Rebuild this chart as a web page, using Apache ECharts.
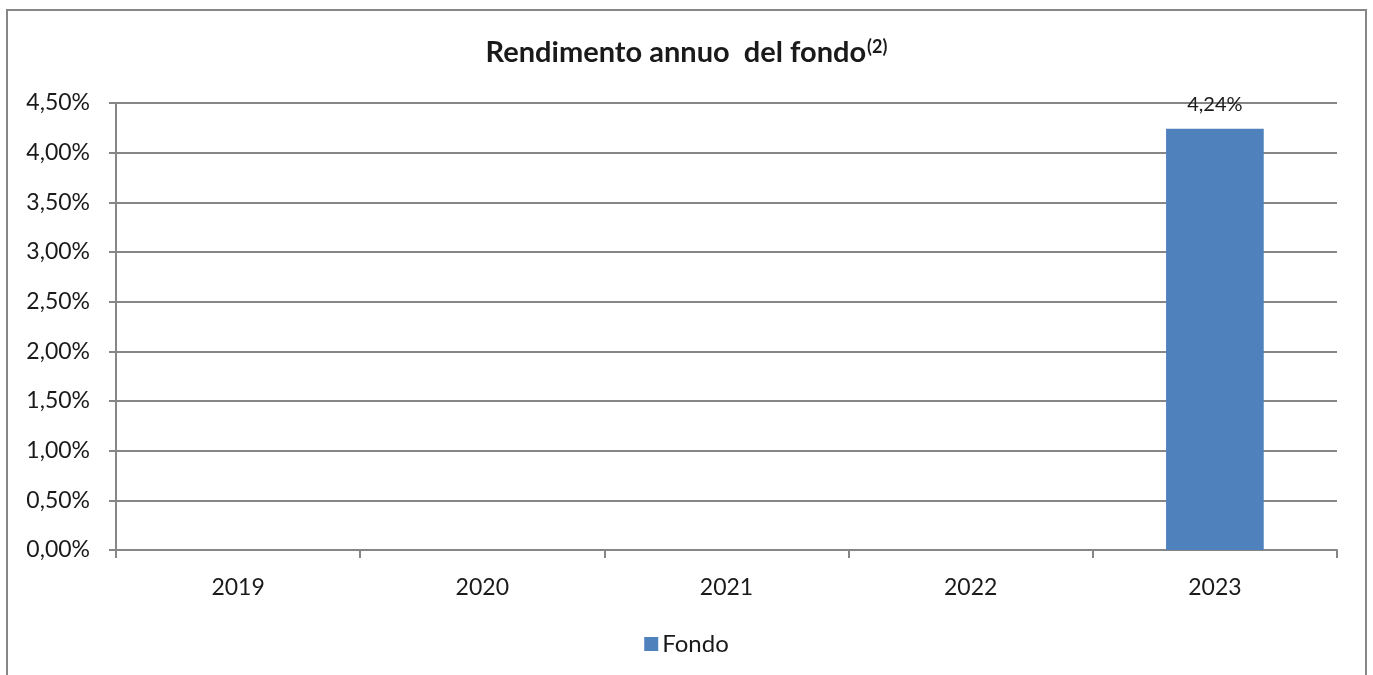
<!DOCTYPE html>
<html>
<head>
<meta charset="utf-8">
<script src="https://cdn.jsdelivr.net/npm/echarts@6/dist/echarts.min.js"></script>
<style>
html,body{margin:0;padding:0;background:#fff;}
#c{width:1373px;height:675px;}
</style>
</head>
<body>
<div id="c"></div>
<script>
const categories = ['2019', '2020', '2021', '2022', '2023'];
const fondo = [null, null, null, null, 4.24];
const seriesName = 'Fondo';
const titleMain = 'Rendimento annuo  del fondo';
const titleSup = '(2)';

const FONT = 'Lato';
const GRAY = '#868686';
const TXT = '#1a1a1a';
const fmt = v => v.toFixed(2).replace('.', ',') + '%';

const chart = echarts.init(document.getElementById('c'));
chart.setOption({
  animation: false,
  backgroundColor: '#fff',
  graphic: [{
    type: 'rect',
    shape: { x: 7, y: 10, width: 1359, height: 700 },
    style: { fill: 'none', stroke: GRAY, lineWidth: 2 },
    silent: true
  }],
  title: {
    text: '{m|' + titleMain + '}{s|' + titleSup + '}',
    left: 'center',
    top: 33,
    textStyle: {
      rich: {
        m: { fontFamily: FONT, fontWeight: 'bold', fontSize: 29, color: TXT },
        s: { fontFamily: FONT, fontWeight: 'bold', fontSize: 18, color: TXT, verticalAlign: 'top', padding: [0, 0, 12, 1] }
      }
    }
  },
  legend: {
    top: 627,
    left: 'center',
    icon: 'rect',
    itemWidth: 14,
    itemHeight: 14,
    itemGap: 6,
    textStyle: { fontFamily: FONT, fontSize: 24, color: TXT, padding: [0, 0, 0, -1] },
    data: [seriesName]
  },
  grid: { left: 116, right: 36, top: 103, bottom: 125, containLabel: false },
  xAxis: {
    type: 'category',
    data: categories,
    boundaryGap: true,
    axisLine: { lineStyle: { color: GRAY, width: 2 } },
    axisTick: { show: true, alignWithLabel: false, length: 8, lineStyle: { color: GRAY, width: 2 } },
    axisLabel: { fontFamily: FONT, fontSize: 23, color: TXT, margin: 26 }
  },
  yAxis: {
    type: 'value',
    min: 0,
    max: 4.5,
    interval: 0.5,
    axisLine: { show: true, lineStyle: { color: GRAY, width: 2 } },
    axisTick: { show: true, length: 7, lineStyle: { color: GRAY, width: 2 } },
    splitLine: { lineStyle: { color: GRAY, width: 2 } },
    axisLabel: { fontFamily: FONT, fontSize: 23, color: TXT, margin: 26, formatter: fmt }
  },
  series: [{
    name: seriesName,
    type: 'bar',
    data: fondo,
    barWidth: '40%',
    itemStyle: { color: '#4F81BD' },
    label: {
      show: true,
      position: 'top',
      distance: 14,
      fontFamily: FONT,
      fontSize: 20,
      color: TXT,
      formatter: p => fmt(p.value)
    }
  }]
});
</script>
</body>
</html>
